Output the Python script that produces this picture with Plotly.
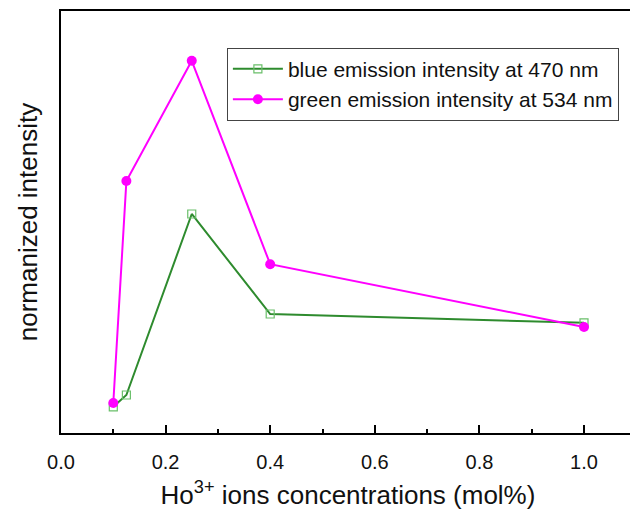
import plotly.graph_objects as go

conc = [0.1, 0.125, 0.25, 0.4, 1.0]
blue_470 = [0.062, 0.090, 0.519, 0.282, 0.261]
green_534 = [0.071, 0.597, 0.882, 0.400, 0.251]
xticks = [0.0, 0.2, 0.4, 0.6, 0.8, 1.0]
xlabels = ["0.0", "0.2", "0.4", "0.6", "0.8", "1.0"]

fig = go.Figure()
fig.add_trace(go.Scatter(
    x=conc, y=blue_470, mode="lines+markers",
    name="blue emission intensity at 470 nm",
    line=dict(color="#2e8b2e", width=2),
    marker=dict(symbol="square-open", size=8, color="#6abf6a", line=dict(width=1.2)),
))
fig.add_trace(go.Scatter(
    x=conc, y=green_534, mode="lines+markers",
    name="green emission intensity at 534 nm",
    line=dict(color="#ff00ff", width=2),
    marker=dict(symbol="circle", size=10, color="#ff00ff"),
))

fig.update_layout(
    width=630, height=506,
    margin=dict(l=53, r=3, t=3, b=81),
    paper_bgcolor="white", plot_bgcolor="white",
    font=dict(family="Liberation Sans, Arial", color="#111", size=16),
    showlegend=True,
    legend=dict(
        x=0.289, y=0.913, xanchor="left", yanchor="top",
        bordercolor="#444", borderwidth=1, bgcolor="white",
        font=dict(size=21), tracegroupgap=0, itemwidth=50,
    ),
    xaxis=dict(
        range=[0, 1.0975], tickvals=xticks, ticktext=xlabels,
        showline=True, linecolor="black", linewidth=2, mirror=True,
        ticks="inside", ticklen=8, tickwidth=2, tickcolor="black",
        minor=dict(ticks="inside", ticklen=4, tickwidth=2, tickcolor="black", dtick=0.1),
        showgrid=False, zeroline=False, automargin=False,
        tickfont=dict(size=20), ticklabelstandoff=10,
        title=dict(text="Ho<sup>3+</sup> ions concentrations (mol%)", font=dict(size=26), standoff=14),
    ),
    yaxis=dict(
        range=[0, 1.0],
        showline=True, linecolor="black", linewidth=2, mirror=True,
        showticklabels=False, ticks="", showgrid=False, zeroline=False, automargin=False,
        title=dict(text="normanized intensity", font=dict(size=26), standoff=14),
    ),
)

fig.write_html("out.html")
